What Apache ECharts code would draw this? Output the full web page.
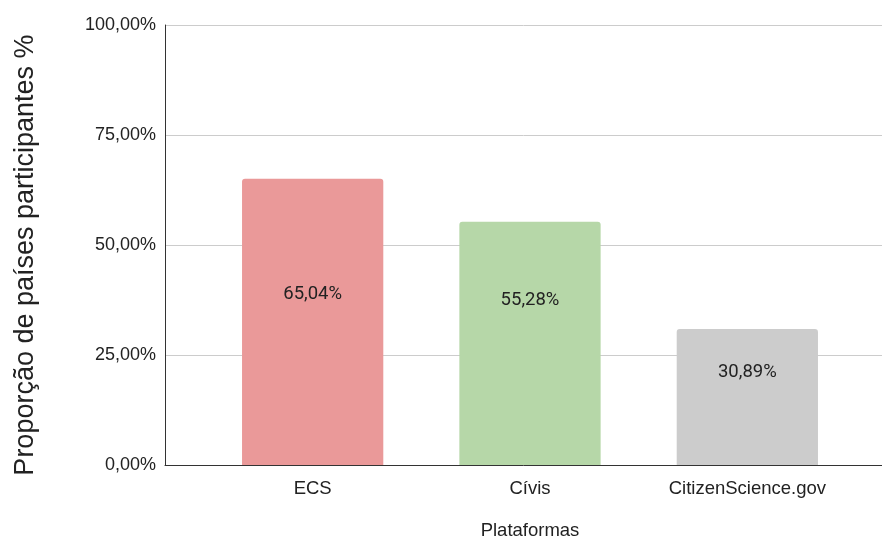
<!DOCTYPE html>
<html>
<head>
<meta charset="utf-8">
<script src="https://cdn.jsdelivr.net/npm/echarts@6/dist/echarts.min.js"></script>
<style>html,body{margin:0;padding:0;background:#fff;}#c{width:882px;height:537px;}</style>
</head>
<body>
<div id="c"></div>
<script>
var categories = ['ECS', 'Cívis', 'CitizenScience.gov'];
var values = [65.04, 55.28, 30.89];
var colors = ['#EA9999', '#B6D7A8', '#CCCCCC'];
var labelOffsets = [-28, -43, -25];
var yTicks = [0, 25, 50, 75, 100];

function fmt(v) { return v.toFixed(2).replace('.', ',') + '%'; }

var chart = echarts.init(document.getElementById('c'));
chart.setOption({
  animation: false,
  grid: [
    { left: 165, right: 0, top: 25, bottom: 72, outerBoundsMode: 'none', containLabel: false },
    { left: 204, right: 26, top: 25, bottom: 72, outerBoundsMode: 'none', containLabel: false }
  ],
  xAxis: [
    { gridIndex: 0, type: 'category', data: categories, axisLine: { lineStyle: { color: '#333', width: 1 } },
      axisTick: { show: false }, axisLabel: { show: false } },
    { gridIndex: 1, type: 'category', data: categories, axisLine: { show: false }, axisTick: { show: false },
      axisLabel: { color: '#222', fontSize: 18.5, fontFamily: 'Liberation Sans, Arial', margin: 14 },
      name: 'Plataformas', nameLocation: 'middle', nameGap: 56,
      nameTextStyle: { color: '#222', fontSize: 18.5, fontFamily: 'Liberation Sans, Arial' } }
  ],
  yAxis: [
    { gridIndex: 0, type: 'value', min: 0, max: 100, interval: 25,
      axisLine: { show: true, lineStyle: { color: '#333', width: 1 } }, axisTick: { show: false },
      splitLine: { lineStyle: { color: '#cccccc', width: 1 } },
      axisLabel: { color: '#222', fontSize: 18, fontFamily: 'Liberation Sans, Arial', margin: 9, formatter: function (v) { return fmt(v); } },
      name: 'Proporção de países participantes %', nameLocation: 'middle', nameGap: 126,
      nameTextStyle: { color: '#222', fontSize: 27, fontFamily: 'Liberation Sans, Arial', padding: [0, 20, 0, 0] } },
    { gridIndex: 1, type: 'value', min: 0, max: 100, interval: 25, show: false, splitLine: { show: false } }
  ],
  series: [{
    type: 'bar', xAxisIndex: 1, yAxisIndex: 1, barWidth: '65%',
    data: values.map(function (v, i) {
      return { value: v, itemStyle: { color: colors[i], borderRadius: [3, 3, 0, 0] },
        label: { offset: [0, labelOffsets[i]] } };
    }),
    label: { show: true, position: 'inside', color: '#222', fontSize: 18.5, fontFamily: 'Roboto, Arial',
      formatter: function (p) { return fmt(p.value); } }
  }]
});
</script>
</body>
</html>
